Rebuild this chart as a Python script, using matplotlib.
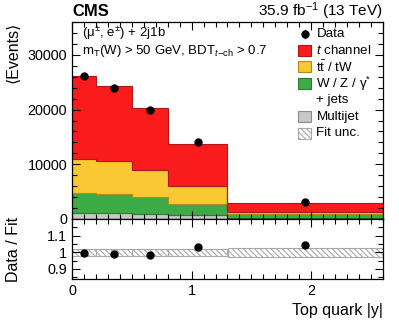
import numpy as np
import matplotlib
matplotlib.use('Agg')
import matplotlib.pyplot as plt
from matplotlib.patches import Rectangle
from matplotlib.ticker import MultipleLocator, FixedLocator, FuncFormatter

plt.rcParams['font.family'] = ['Liberation Sans', 'DejaVu Sans']
plt.rcParams['mathtext.fontset'] = 'custom'
plt.rcParams['mathtext.rm'] = 'Liberation Sans'
plt.rcParams['mathtext.it'] = 'Liberation Sans:italic'
plt.rcParams['mathtext.bf'] = 'Liberation Sans:bold'
plt.rcParams['hatch.color'] = '#a0a0a0'
plt.rcParams['hatch.linewidth'] = 0.8

# binning in |y| of the top quark
edges = np.array([0.0, 0.2, 0.5, 0.8, 1.3, 2.6])

# fitted yields per bin (stacked from the bottom)
multijet = np.array([1150, 1050, 950, 700, 250])
wjets = np.array([3550, 3600, 3150, 2000, 650])
ttbar = np.array([6200, 5950, 4900, 3350, 450])
tchannel = np.array([15300, 13700, 11200, 7600, 1580])

data = np.array([26150, 24000, 19900, 14050, 3060])
fit_unc = np.array([0.022, 0.020, 0.020, 0.020, 0.025])  # relative

W, H = 399, 322


def fx(px):
    return px / W


def fy(py):
    return 1 - py / H


fig = plt.figure(figsize=(W / 100, H / 100), dpi=100)
ax = fig.add_axes([fx(72), fy(219), fx(383) - fx(72), fy(22) - fy(219)])
rax = fig.add_axes([fx(72), fy(279), fx(383) - fx(72), fy(219) - fy(279)])

centers = 0.5 * (edges[:-1] + edges[1:])
widths = np.diff(edges)

components = [
    (multijet, '#c8c8c8', '#8c8c8c'),
    (wjets, '#3cab46', '#2a7a30'),
    (ttbar, '#f9c832', '#b08c1e'),
    (tchannel, '#fa1c1c', '#b01818'),
]
base = np.zeros(len(centers))
for vals, fc, ec in components:
    ax.stairs(base + vals, edges, baseline=base, fill=True,
              facecolor=fc, edgecolor=ec, linewidth=0.8)
    base = base + vals
total = base

ax.errorbar(centers, data, yerr=np.sqrt(data), fmt='o', color='k', ms=5,
            elinewidth=1, capsize=0)

ax.set_xlim(0, 2.6)
ax.set_ylim(0, 36000)
ax.yaxis.set_major_locator(MultipleLocator(10000))
ax.yaxis.set_minor_locator(MultipleLocator(2000))
ax.xaxis.set_major_locator(MultipleLocator(1))
ax.xaxis.set_minor_locator(MultipleLocator(0.1))
ax.tick_params(labelbottom=False)

# ratio panel
rax.bar(centers, 2 * fit_unc, bottom=1 - fit_unc, width=widths,
        facecolor='white', edgecolor='#a8a8a8', hatch='\\\\\\\\\\\\', linewidth=0.8)
rax.errorbar(centers, data / total, yerr=np.sqrt(data) / total, fmt='o',
             color='k', ms=5, elinewidth=1, capsize=0)
rax.set_xlim(0, 2.6)
rax.set_ylim(0.84, 1.2)
rax.yaxis.set_major_locator(FixedLocator([0.9, 1.0, 1.1]))
rax.yaxis.set_major_formatter(FuncFormatter(lambda v, p: f'{v:g}'))
rax.yaxis.set_minor_locator(MultipleLocator(0.05))
rax.xaxis.set_major_locator(MultipleLocator(1))
rax.xaxis.set_minor_locator(MultipleLocator(0.1))

for a in (ax, rax):
    a.tick_params(which='both', direction='in', top=True, right=True,
                  labelsize=10.4, width=0.8)
    a.tick_params(which='major', length=6)
    a.tick_params(which='minor', length=3.5)
    for s in a.spines.values():
        s.set_linewidth(0.9)

ax.set_ylabel('⟨Events⟩', fontsize=11.5, loc='top')
ax.yaxis.set_label_coords(-0.165, 1.0)
rax.set_ylabel('Data / Fit', fontsize=11.5)
rax.yaxis.set_label_coords(-0.165, 0.5)
fig.text(fx(383), fy(310), 'Top quark |y|', fontsize=11.5, ha='right', va='center')

fig.text(fx(72), fy(11), 'CMS', fontsize=11.9, fontweight='bold', ha='left', va='center')
fig.text(fx(383), fy(11), '35.9 fb$^{-1}$ (13 TeV)', fontsize=11.1, ha='right', va='center')
fig.text(fx(82), fy(33), '(μ$^{\\pm}$, e$^{\\pm}$) + 2j1b', fontsize=9.5, ha='left', va='center')
fig.text(fx(82), fy(51), 'm$_{\\mathrm{T}}$(W) > 50 GeV, BDT$_{t\\mathrm{-ch}}$ > 0.7',
         fontsize=9.5, ha='left', va='center')

# legend, drawn by hand
legend_rows = [
    ('data', None, None, 'Data'),
    ('box', '#fa1c1c', '#b01818', '$\\mathit{t}$ channel'),
    ('box', '#f9c832', '#b08c1e', 't$\\bar{\\mathrm{t}}$ / tW'),
    ('box', '#3cab46', '#2a7a30', 'W / Z / γ$^{*}$'),
    ('none', None, None, '+ jets'),
    ('box', '#c8c8c8', '#8c8c8c', 'Multijet'),
    ('hatch', 'white', '#a8a8a8', 'Fit unc.'),
]
for i, (kind, fc, ec, label) in enumerate(legend_rows):
    cy = 33.7 + i * 16.6
    if kind in ('box', 'hatch'):
        rect = Rectangle((fx(297.5), fy(cy + 5.5)), fx(13), 11 / H,
                         transform=fig.transFigure, facecolor=fc, edgecolor=ec,
                         linewidth=0.8, hatch='\\\\\\\\\\\\' if kind == 'hatch' else None)
        fig.patches.append(rect)
    elif kind == 'data':
        fig.lines.append(plt.Line2D([fx(304.5)], [fy(cy)], marker='o', ms=5,
                                    color='k', transform=fig.transFigure))
        fig.lines.append(plt.Line2D([fx(304.5), fx(304.5)], [fy(cy - 4), fy(cy + 4)],
                                    color='k', lw=1, transform=fig.transFigure))
    fig.text(fx(316.5), fy(cy), label, fontsize=9.6, ha='left', va='center')

fig.savefig('out.png', dpi=100)
